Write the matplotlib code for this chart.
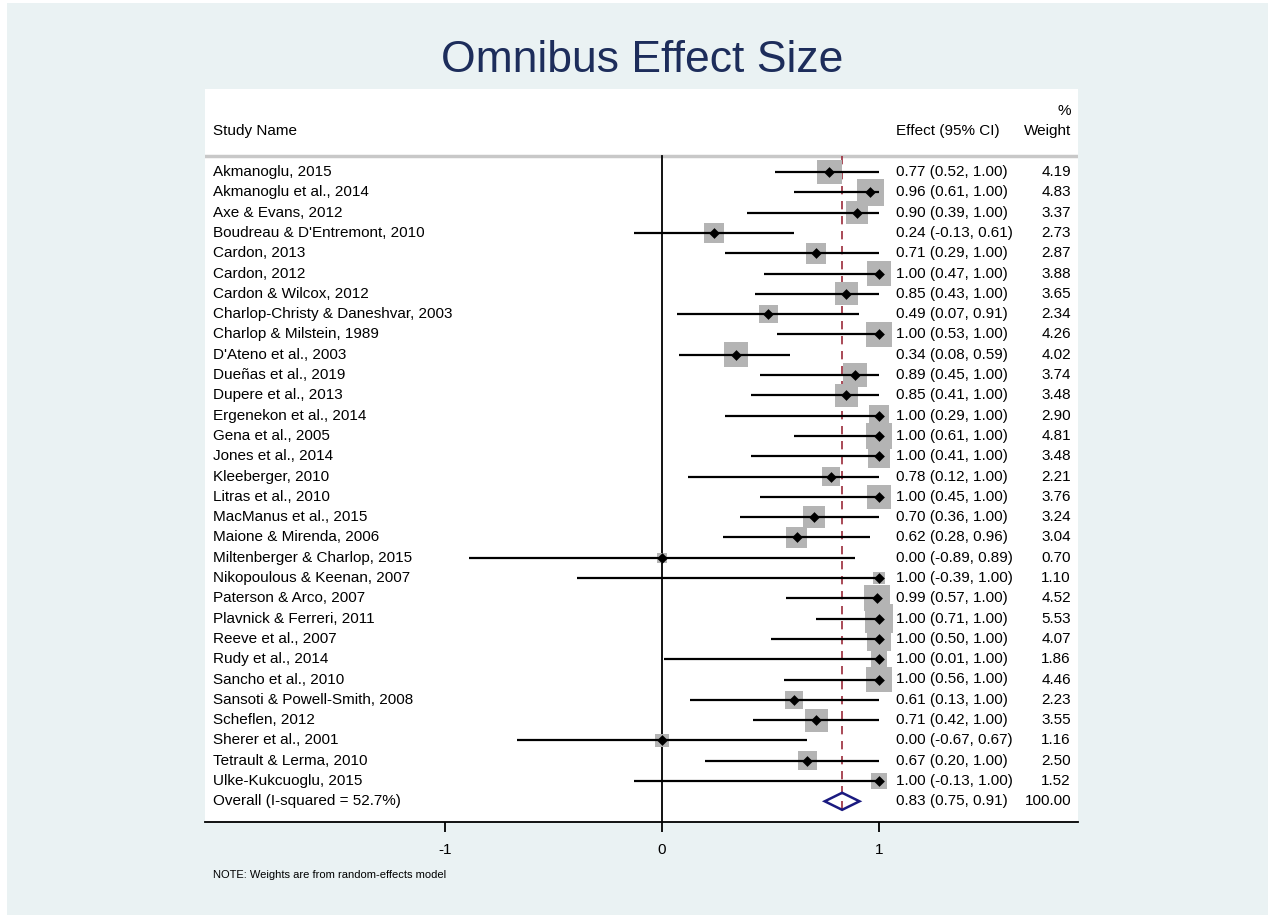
import numpy as np
import matplotlib.pyplot as plt
from matplotlib.patches import Rectangle, Polygon

plt.rcParams['font.family'] = ['Liberation Sans', 'DejaVu Sans']

# study data
studies = ["Akmanoglu, 2015", "Akmanoglu et al., 2014", "Axe & Evans, 2012",
           "Boudreau & D'Entremont, 2010", "Cardon, 2013", "Cardon, 2012",
           "Cardon & Wilcox, 2012", "Charlop-Christy & Daneshvar, 2003",
           "Charlop & Milstein, 1989", "D'Ateno et al., 2003", "Dueñas et al., 2019",
           "Dupere et al., 2013", "Ergenekon et al., 2014", "Gena et al., 2005",
           "Jones et al., 2014", "Kleeberger, 2010", "Litras et al., 2010",
           "MacManus et al., 2015", "Maione & Mirenda, 2006",
           "Miltenberger & Charlop, 2015", "Nikopoulous & Keenan, 2007",
           "Paterson & Arco, 2007", "Plavnick & Ferreri, 2011", "Reeve et al., 2007",
           "Rudy et al., 2014", "Sancho et al., 2010", "Sansoti & Powell-Smith, 2008",
           "Scheflen, 2012", "Sherer et al., 2001", "Tetrault & Lerma, 2010",
           "Ulke-Kukcuoglu, 2015"]
effect = [0.77, 0.96, 0.90, 0.24, 0.71, 1.00, 0.85, 0.49, 1.00, 0.34, 0.89, 0.85,
          1.00, 1.00, 1.00, 0.78, 1.00, 0.70, 0.62, 0.00, 1.00, 0.99, 1.00, 1.00,
          1.00, 1.00, 0.61, 0.71, 0.00, 0.67, 1.00]
ci_low = [0.52, 0.61, 0.39, -0.13, 0.29, 0.47, 0.43, 0.07, 0.53, 0.08, 0.45, 0.41,
          0.29, 0.61, 0.41, 0.12, 0.45, 0.36, 0.28, -0.89, -0.39, 0.57, 0.71, 0.50,
          0.01, 0.56, 0.13, 0.42, -0.67, 0.20, -0.13]
ci_high = [1.00, 1.00, 1.00, 0.61, 1.00, 1.00, 1.00, 0.91, 1.00, 0.59, 1.00, 1.00,
           1.00, 1.00, 1.00, 1.00, 1.00, 1.00, 0.96, 0.89, 1.00, 1.00, 1.00, 1.00,
           1.00, 1.00, 1.00, 1.00, 0.67, 1.00, 1.00]
weight = [4.19, 4.83, 3.37, 2.73, 2.87, 3.88, 3.65, 2.34, 4.26, 4.02, 3.74, 3.48,
          2.90, 4.81, 3.48, 2.21, 3.76, 3.24, 3.04, 0.70, 1.10, 4.52, 5.53, 4.07,
          1.86, 4.46, 2.23, 3.55, 1.16, 2.50, 1.52]
overall_label = "Overall (I-squared = 52.7%)"
overall_es, overall_lo, overall_hi, overall_w = 0.83, 0.75, 0.91, 100.00
xticks = [-1, 0, 1]

W, H = 1268, 915
fig = plt.figure(figsize=(W / 100, H / 100), dpi=100)
fig.patch.set_facecolor('white')
fig.patches.append(Rectangle((7 / W, 0), 1 - 7 / W, 1 - 3 / H, transform=fig.transFigure,
                             facecolor='#eaf2f3', edgecolor='none', zorder=-10))

ax = fig.add_axes([205 / W, 93 / H, 873 / W, 733 / H])
ax.set_facecolor('white')
px = 217.0  # pixels per unit
x0 = 662.0
ax.set_xlim((205 - x0) / px, (1078 - x0) / px)
step = 20.3
ax.set_ylim((822 - 172) / step, (89 - 172) / step)

n = len(studies)
rows = np.arange(n)
txt = 11
col_name = (213 - x0) / px
col_es = (896 - x0) / px
col_w = (1071 - x0) / px

# header
ax.text(col_name, -2.0, "Study Name", fontsize=txt, va='center', ha='left')
ax.text(col_es, -2.0, "Effect (95% CI)", fontsize=txt, va='center', ha='left')
ax.text(col_w, -2.0, "Weight", fontsize=txt, va='center', ha='right')
ax.text(col_w, -3.0, "%", fontsize=txt, va='center', ha='right')
ax.axhline(-0.79, color='#c8c8c8', lw=2.5)

# null line and overall line
ax.plot([0, 0], [-0.79, (822 - 172) / step], color='black', lw=1.3, zorder=2)
ax.plot([overall_es, overall_es], [-0.79, n + 0.45], color='#9b2a3a', lw=1.2,
        ls=(0, (5, 4)), zorder=2)

# weight boxes, CIs and point estimates
side_pt = 12.2 * 0.72 * np.sqrt(np.array(weight))
ax.scatter(effect, rows, s=side_pt ** 2, marker='s', color='#b4b4b4', lw=0, zorder=3)
ax.hlines(rows, ci_low, ci_high, color='black', lw=1.6, zorder=4)
ax.scatter(effect, rows, s=30, marker='D', color='black', lw=0, zorder=5)

for i in range(n):
    ax.text(col_name, rows[i], studies[i], fontsize=txt, va='center', ha='left')
    ax.text(col_es, rows[i], f"{effect[i]:.2f} ({ci_low[i]:.2f}, {ci_high[i]:.2f})",
            fontsize=txt, va='center', ha='left')
    ax.text(col_w, rows[i], f"{weight[i]:.2f}", fontsize=txt, va='center', ha='right')

# overall diamond
yo = n
ax.add_patch(Polygon([[overall_lo, yo], [overall_es, yo - 0.42], [overall_hi, yo],
                      [overall_es, yo + 0.42]], closed=True, fill=False,
                     edgecolor='#1a1a80', lw=1.8, zorder=5))
ax.text(col_name, yo, overall_label, fontsize=txt, va='center', ha='left')
ax.text(col_es, yo, f"{overall_es:.2f} ({overall_lo:.2f}, {overall_hi:.2f})",
        fontsize=txt, va='center', ha='left')
ax.text(col_w, yo, f"{overall_w:.2f}", fontsize=txt, va='center', ha='right')

for s in ['top', 'left', 'right']:
    ax.spines[s].set_visible(False)
ax.spines['bottom'].set_linewidth(1.3)
ax.set_yticks([])
ax.set_xticks(xticks)
ax.set_xticklabels([str(t) for t in xticks])
ax.tick_params(axis='x', length=7, width=1.3, labelsize=11, pad=8)

fig.text(642 / W, 1 - 60 / H, "Omnibus Effect Size", fontsize=32, color='#1d2d5b',
         ha='center', va='center')
fig.text(213 / W, 1 - 875 / H, "NOTE: Weights are from random-effects model",
         fontsize=8, ha='left', va='center')

fig.savefig('out.png', dpi=100, facecolor=fig.get_facecolor())
